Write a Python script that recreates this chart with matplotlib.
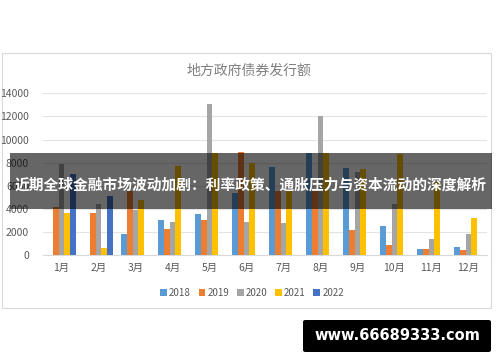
import matplotlib
matplotlib.use("Agg")
import matplotlib.pyplot as plt
import numpy as np
from matplotlib.patches import Rectangle, FancyBboxPatch

plt.rcParams['font.family'] = ['Noto Sans CJK SC', 'DejaVu Sans']

months = ['1月', '2月', '3月', '4月', '5月', '6月', '7月', '8月', '9月', '10月', '11月', '12月']
years = ['2018', '2019', '2020', '2021', '2022']
v2018 = [0, 0, 1850, 3000, 3530, 5330, 7600, 8860, 7500, 2550, 500, 650]
v2019 = [4130, 3640, 5500, 2250, 3030, 8950, 5560, 5600, 2200, 900, 500, 400]
v2020 = [7850, 4400, 3880, 2890, 13050, 2890, 2740, 12050, 7220, 4420, 1400, 1800]
v2021 = [3640, 630, 4760, 7740, 8800, 7940, 5560, 8800, 7420, 8750, 6330, 3200]
v2022 = [7040, 5140, 0, 0, 0, 0, 0, 0, 0, 0, 0, 0]
colors = ['#5B9BD5', '#ED7D31', '#A5A5A5', '#FFC000', '#4472C4']

W, H = 500, 362
fig = plt.figure(figsize=(5, 3.62), dpi=100)
fig.patch.set_facecolor('white')

# chart frame
fig.patches.append(Rectangle((2 / W, 1 - 308 / H), 489 / W, 255 / H, transform=fig.transFigure,
                             facecolor='none', edgecolor='#d9d9d9', lw=0.8, zorder=-1))

ax = fig.add_axes([43 / W, 1 - 255 / H, 444 / W, (255 - 93.3) / H])
x = np.arange(len(months))
bw = 0.157
series = [v2018, v2019, v2020, v2021, v2022]
for i, (yr, vals, c) in enumerate(zip(years, series, colors)):
    ax.bar(x + (i - 2) * bw, vals, width=bw, color=c, label=yr, zorder=3)

ax.set_xlim(-0.5, 11.5)
ax.set_ylim(0, 14000)
ax.set_yticks(range(0, 14001, 2000))
ax.grid(axis='y', color='#e3e3e3', lw=0.8, zorder=0)
for s in ['top', 'right', 'left']:
    ax.spines[s].set_visible(False)
ax.spines['bottom'].set_color('#d9d9d9')
ax.set_xticks(x)
ax.set_xticklabels(months)
ax.tick_params(axis='both', length=0, colors='#595959', labelsize=7.5)
ax.tick_params(axis='x', pad=6)
ax.tick_params(axis='y', pad=10)
ax.set_facecolor('none')

fig.text(0.497, 1 - 71 / H, '地方政府债券发行额', ha='center', va='center',
         fontsize=10, color='#7f7f7f')

fig.legend(loc='center', bbox_to_anchor=(252 / W, 1 - 293 / H), ncol=5, frameon=False,
           fontsize=7, handlelength=0.7, handleheight=0.7, handletextpad=0.2,
           columnspacing=0.8, labelcolor='#595959')

# dark banner
fig.patches.append(Rectangle((10 / W, 1 - 209 / H), 482 / W, 56 / H, transform=fig.transFigure,
                             facecolor='black', alpha=0.6, edgecolor='none', zorder=10))
fig.text(251 / W, 1 - 185 / H, '近期全球金融市场波动加剧：利率政策、通胀压力与资本流动的深度解析',
         ha='center', va='center', color='white', fontsize=10.6, fontweight='bold', zorder=11)

# watermark
fig.patches.append(FancyBboxPatch((303 / W, 1 - 352 / H), 188 / W, 32 / H, transform=fig.transFigure,
                                  boxstyle='round,pad=0,rounding_size=0.005',
                                  facecolor='black', edgecolor='none', zorder=10))
fig.text(397 / W, 1 - 336 / H, 'www.66689333.com', ha='center', va='center', color='white',
         fontsize=10.5, fontweight='bold', family='DejaVu Sans', zorder=11)

fig.savefig('out.png', dpi=100)
